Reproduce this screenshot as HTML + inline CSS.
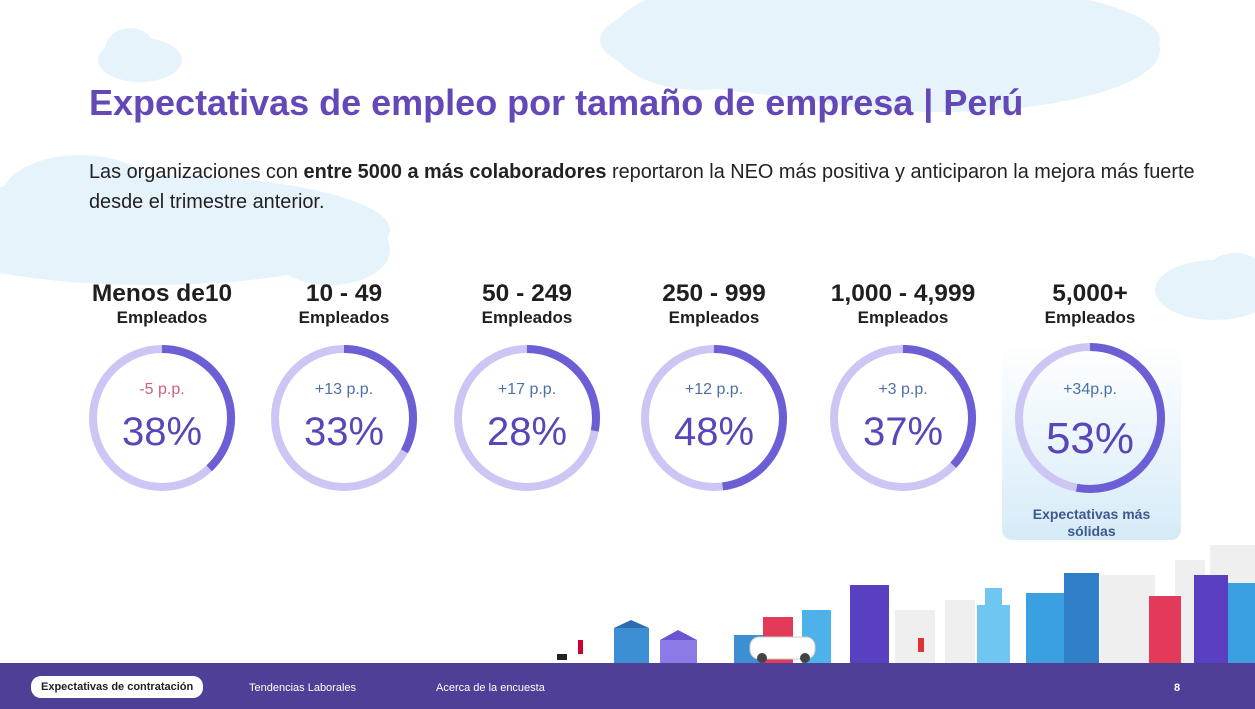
<!DOCTYPE html>
<html><head><meta charset="utf-8">
<style>
body{margin:0;width:1255px;height:709px;overflow:hidden;background:#fff;font-family:"Liberation Sans",Arial,sans-serif;position:relative}
.abs{position:absolute}
h1{position:absolute;left:89px;top:82px;margin:0;font-size:36px;font-weight:bold;color:#6448b8;white-space:nowrap}
.sub{left:89px;top:157px;font-size:19.9px;line-height:30px;color:#222;width:1160px;white-space:nowrap}
.hd{position:absolute;text-align:center;width:200px;color:#1f1f1f;font-weight:bold}
.hd .a{font-size:24.5px;line-height:27px}
.hd .b{font-size:17px;line-height:21px}
#footer{left:0;top:663px;width:1255px;height:46px;background:#4f3f96}
.nav{position:absolute;top:19px;font-size:11px;color:#fff}
</style></head><body>
<svg class="abs" style="left:0;top:0" width="1255" height="709">
<g fill="#e6f3fb">
<ellipse cx="140" cy="60" rx="42" ry="22"/><ellipse cx="130" cy="50" rx="25" ry="22"/>
<ellipse cx="880" cy="40" rx="280" ry="60"/><ellipse cx="700" cy="40" rx="90" ry="50"/><ellipse cx="940" cy="50" rx="220" ry="62"/>
<ellipse cx="150" cy="230" rx="240" ry="55"/><ellipse cx="80" cy="200" rx="80" ry="45"/><ellipse cx="330" cy="250" rx="60" ry="35"/>
<ellipse cx="1215" cy="290" rx="60" ry="30"/><ellipse cx="1235" cy="275" rx="30" ry="22"/>
</g>
<g fill="#efefef"><rect x="1100" y="575" width="55" height="88"/><rect x="1175" y="560" width="30" height="103"/><rect x="1210" y="545" width="45" height="118"/><rect x="895" y="610" width="40" height="53"/><rect x="945" y="600" width="30" height="63"/></g>
<g>
<rect x="614" y="628" width="35" height="35" fill="#3d8fd4"/><polygon points="614,628 631,620 649,628" fill="#2d6cb0"/>
<rect x="660" y="640" width="37" height="23" fill="#8c7ae6"/><polygon points="660,640 678,630 697,640" fill="#6a54d0"/>
<rect x="734" y="635" width="30" height="28" fill="#3d8fd4"/><rect x="763" y="617" width="30" height="46" fill="#e23a58"/>
<rect x="802" y="610" width="29" height="53" fill="#4db2ea"/>
<rect x="850" y="585" width="39" height="78" fill="#5a3fc0"/>
<rect x="750" y="637" width="65" height="22" rx="9" fill="#fff" stroke="#ccc"/><circle cx="762" cy="658" r="5" fill="#444"/><circle cx="805" cy="658" r="5" fill="#444"/>
<rect x="977" y="605" width="33" height="58" fill="#6fc6f0"/><rect x="985" y="588" width="17" height="20" fill="#6fc6f0"/>
<rect x="1026" y="593" width="38" height="70" fill="#3aa0e0"/><rect x="1064" y="573" width="35" height="90" fill="#2f80c8"/>
<rect x="1149" y="596" width="32" height="67" fill="#e23a58"/>
<rect x="1194" y="575" width="34" height="88" fill="#5a3fc0"/><rect x="1228" y="583" width="27" height="80" fill="#3aa0e0"/>
<rect x="578" y="640" width="5" height="14" fill="#c03"/><rect x="557" y="654" width="10" height="6" fill="#222"/>
<rect x="918" y="638" width="6" height="14" fill="#d33"/>
</g>
</svg>
<h1>Expectativas de empleo por tamaño de empresa | Perú</h1>
<div class="abs sub">Las organizaciones con <b>entre 5000 a más colaboradores</b> reportaron la NEO más positiva y anticiparon la mejora más fuerte<br>desde el trimestre anterior.</div>
<div class="abs" style="left:1002px;top:343px;width:179px;height:197px;border-radius:10px;background:linear-gradient(#ffffff,#d6ebf8)"></div>
<div class="abs" style="left:1022px;top:506px;width:139px;text-align:center;font-size:14px;font-weight:bold;color:#3d5a8c;line-height:17px">Expectativas más sólidas</div>
<div id="heads"></div>
<svg id="donuts" class="abs" style="left:0;top:0" width="1255" height="560"></svg>
<div id="footer" class="abs">
<div class="nav" style="left:31px;top:13px;background:#fff;color:#222;font-weight:bold;padding:5px 10px;border-radius:10px">Expectativas de contratación</div>
<div class="nav" style="left:249px">Tendencias Laborales</div>
<div class="nav" style="left:436px">Acerca de la encuesta</div>
<div class="nav" style="left:1174px;font-weight:bold">8</div>
</div>
<script>
const categories=["Menos de10","10 - 49","50 - 249","250 - 999","1,000 - 4,999","5,000+"];
const values=[38,33,28,48,37,53];
const changes=["-5 p.p.","+13 p.p.","+17 p.p.","+12 p.p.","+3 p.p.","+34p.p."];
const centersX=[162,344,527,714,903,1090];
const NS="http://www.w3.org/2000/svg";
const svg=document.getElementById('donuts');
const heads=document.getElementById('heads');
const cy=418,r=69,sw=8;
function ang(v){return v/100*2*Math.PI;}
function mk(t,a){const e=document.createElementNS(NS,t);for(const k in a)e.setAttribute(k,a[k]);return e;}
categories.forEach((c,i)=>{
  const cx=centersX[i];
  const h=document.createElement('div');
  h.className='hd';h.style.left=(cx-100)+'px';h.style.top='280px';
  h.innerHTML='<div class="a">'+c+'</div><div class="b">Empleados</div>';
  
  
  heads.appendChild(h);
  const rr=i==5?71:r;
  const bg=mk('circle',{cx:cx,cy:cy,r:rr,fill:'none',stroke:'#cdc6f5','stroke-width':sw});
  
  
  svg.appendChild(bg);
  const a=ang(values[i]);
  const x1=cx,y1=cy-rr,x2=cx+rr*Math.sin(a),y2=cy-rr*Math.cos(a);
  const arc=mk('path',{d:`M${x1} ${y1} A${rr} ${rr} 0 ${values[i]>50?1:0} 1 ${x2} ${y2}`,fill:'none',stroke:'#6c5fd6','stroke-width':sw});
  
  
  svg.appendChild(arc);
  const t1=mk('text',{x:cx,y:cy-24,'text-anchor':'middle','font-size':16,fill:changes[i][0]=='-'?'#d0607a':'#4f6fa8','font-family':'Liberation Sans, sans-serif'});
  t1.textContent=changes[i];
  
  
  svg.appendChild(t1);
  const t2=mk('text',{x:cx,y:cy+(i==5?35:27),'text-anchor':'middle','font-size':i==5?44:40,fill:'#5a46b8','font-family':'Liberation Sans, sans-serif'});
  t2.textContent=values[i]+'%';
  
  
  svg.appendChild(t2);
});
</script>
</body></html>
